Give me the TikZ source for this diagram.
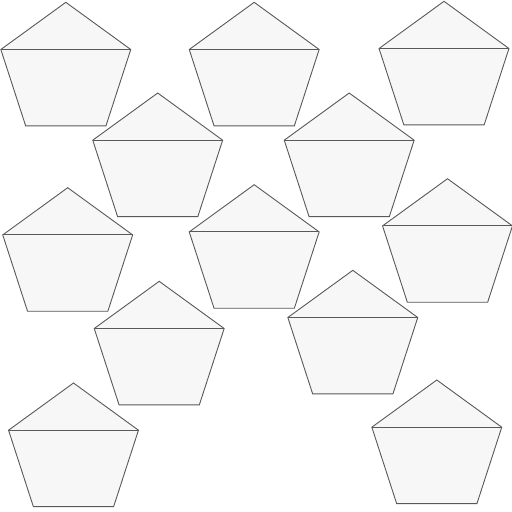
\documentclass[tikz,border=0pt]{standalone}
\begin{document}
\begin{tikzpicture}[x=1pt,y=-1pt,
  pentstyle/.style={draw=black!65,fill=black!3,line width=0.9pt,line join=miter},
  chord/.style={draw=black!65,line width=0.9pt},
  pent/.pic={
    \path[pentstyle] (0,-68.3) -- (64.96,-21.1) -- (40.15,55.26) -- (-40.15,55.26) -- (-64.96,-21.1) -- cycle;
    \path[chord] (-64.96,-21.1) -- (64.96,-21.1);
  }]
\useasboundingbox (0,0) rectangle (512,512);
\foreach \cx/\cy in {65.8/70.6, 254.2/70.6, 444/69.6,
                     157.7/161.3, 349.2/161.3,
                     67.7/256, 254.2/253, 447.5/247,
                     159.2/349.6, 352.8/338.6,
                     73.5/451.3, 436.8/448.3}
  \pic at (\cx,\cy) {pent};
\end{tikzpicture}
\end{document}
